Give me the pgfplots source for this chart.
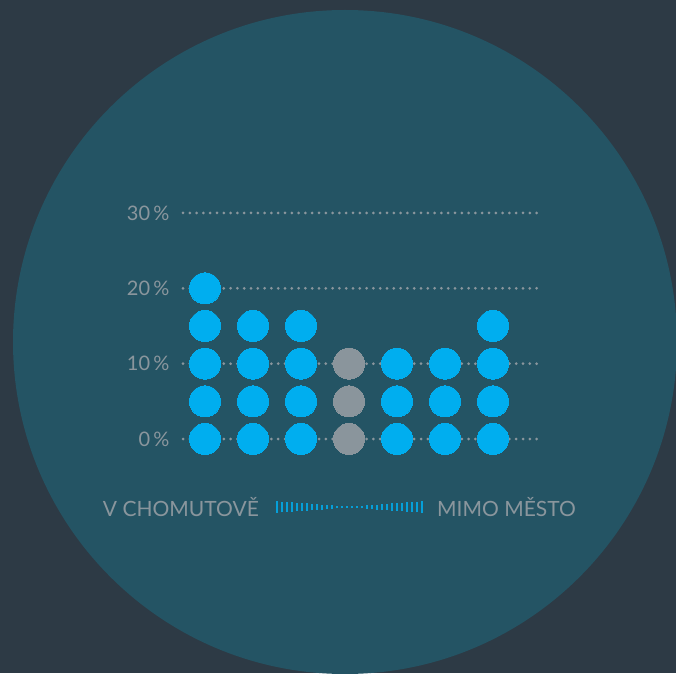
\documentclass[border=0pt]{standalone}
\usepackage{pgfplots}
\pgfplotsset{compat=1.18}
\usepackage{fontspec}
\setmainfont{Lato}
\definecolor{bg}{HTML}{2D3A45}
\definecolor{disc}{HTML}{245464}
\definecolor{dotblue}{HTML}{00AEEF}
\definecolor{dotgrey}{HTML}{8A959C}
\definecolor{txt}{HTML}{8A969D}
\begin{document}
\begin{tikzpicture}[x=1pt,y=1pt]
\useasboundingbox (0,0) rectangle (676,673);
\clip (0,0) rectangle (676,673);
\fill[bg] (0,0) rectangle (676,673);
\fill[disc] (345,331) circle (332);
\begin{axis}[
  at={(183pt,211.4pt)}, anchor=south west,
  scale only axis, width=354pt, height=263.7pt,
  xmin=-0.4583, xmax=6.917, ymin=-3, ymax=32,
  axis line style={draw=none}, clip=false,
  major tick length=0pt,
  xtick=\empty, ytick={0,10,20,30},
  ymajorgrids,
  grid style={txt, line width=3pt, line cap=round, dash pattern=on 0pt off 6.8pt},
  /pgf/number format/assume math mode=true,
  yticklabel={\pgfmathprintnumber{\tick}\,\%},
  yticklabel style={font=\fontsize{20}{22}\selectfont, text=txt, anchor=east, xshift=-10pt, yshift=0pt},
]
\addplot[dotblue, only marks, mark=*, mark size=15.5pt, mark options={fill=dotblue, draw=dotblue, line width=0pt}] coordinates {
(0,0)(0,5)(0,10)(0,15)(0,20)
(1,0)(1,5)(1,10)(1,15)
(2,0)(2,5)(2,10)(2,15)
(4,0)(4,5)(4,10)
(5,0)(5,5)(5,10)
(6,0)(6,5)(6,10)(6,15)};
\addplot[dotgrey, only marks, mark=*, mark size=15.5pt, mark options={fill=dotgrey, draw=dotgrey, line width=0pt}] coordinates {
(3,0)(3,5)(3,10)};
\end{axis}
\node[anchor=east, text=txt, font=\fontsize{21}{24}\selectfont, inner sep=0pt] at (259,166) {V CHOMUTOVĚ};
\node[anchor=west, text=txt, font=\fontsize{21}{24}\selectfont, inner sep=0pt] at (437,166) {MIMO MĚSTO};
\foreach \i in {0,...,29} {
  \pgfmathsetmacro{\h}{0.6+5*abs(\i-14.5)/14.5}
  \draw[dotblue!85!disc, line width=2.4pt] ({277+5*\i},{166-\h}) -- ({277+5*\i},{166+\h});
}
\end{tikzpicture}
\end{document}
